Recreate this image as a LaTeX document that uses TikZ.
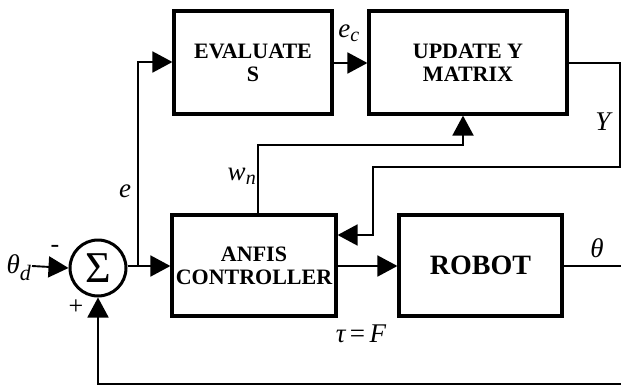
\documentclass[tikz,border=0pt]{standalone}
\usepackage{fontspec}
\setmainfont{Liberation Serif}
\usetikzlibrary{arrows.meta}

\tikzset{
  block/.style={draw, line width=3.2pt, inner sep=0pt, align=center,
    font=\fontsize{22}{23}\selectfont\bfseries},
  conn/.style={line width=1.9pt},
  arr/.style={conn, -{Triangle[length=20pt,width=21pt]}},
  lbl/.style={font=\fontsize{27}{28}\selectfont\itshape, inner sep=0pt},
}

\begin{document}
\begin{tikzpicture}[x=1pt,y=-1pt]
\useasboundingbox (0,0) rectangle (621,388);

% blocks
\node[block, minimum width=158, minimum height=103] (eval) at (253,62.5) {EVALUATE\\S};
\node[block, minimum width=198, minimum height=103] (upd) at (468,62.5) {UPDATE Y\\MATRIX};
\node[block, minimum width=164, minimum height=101] (anfis) at (254,265.5) {ANFIS\\CONTROLLER};
\node[block, minimum width=163, minimum height=101, font=\fontsize{28}{30}\selectfont\bfseries] (robot) at (480.5,265.5) {ROBOT};
\node[draw, circle, line width=3pt, minimum size=56, inner sep=0pt,
  font=\fontsize{44}{44}\selectfont] (sum) at (98,268) {\raisebox{-2pt}{Σ}};

% free ends
\coordinate (in) at (32,266);
\coordinate (out) at (621,266);
\coordinate (fb) at (621,384);
\coordinate (split) at (138,266);

% connectors
\draw[arr] (in) -- (sum.west);
\draw[arr] (sum.east |- split) -- (anfis.west |- split);
\draw[arr] (split) |- (eval.west |- 0,62);
\draw[arr] (eval.east |- 0,63) -- (upd.west |- 0,63);
\draw[arr] (upd.east |- 0,63) -- (620,63) -- (620,167) -- (373,167) -- (373,235) -- (anfis.east |- 0,235);
\draw[arr] (anfis.north -| 258,0) -- (258,145) -- (463,145) -- (upd.south -| 463,0);
\draw[arr] (anfis.east |- 0,266) -- (robot.west |- 0,266);
\draw[conn] (robot.east |- out) -- (out);
\draw[arr] (fb) -| (sum.south);

% labels
\node[lbl] (thd) at (19,268) {θ\textsubscript{\fontsize{22}{22}\selectfont d}};
\node[font=\fontsize{26}{26}\selectfont, inner sep=0pt] (minus) at (55,249) {-};
\node[font=\fontsize{26}{26}\selectfont, inner sep=0pt] (plus) at (76,307) {+};
\node[lbl] (elbl) at (125,191) {e};
\node[lbl] (wn) at (242,176) {w\textsubscript{\fontsize{20}{20}\selectfont n}};
\node[lbl] (ec) at (349,33) {e\textsubscript{\fontsize{20}{20}\selectfont c}};
\node[lbl] (ylbl) at (603,122) {Y};
\node[lbl] (th) at (597,248) {θ};
\node[lbl] (tau) at (361,334) {τ\,\upshape=\,\itshape F};
\end{tikzpicture}
\end{document}
